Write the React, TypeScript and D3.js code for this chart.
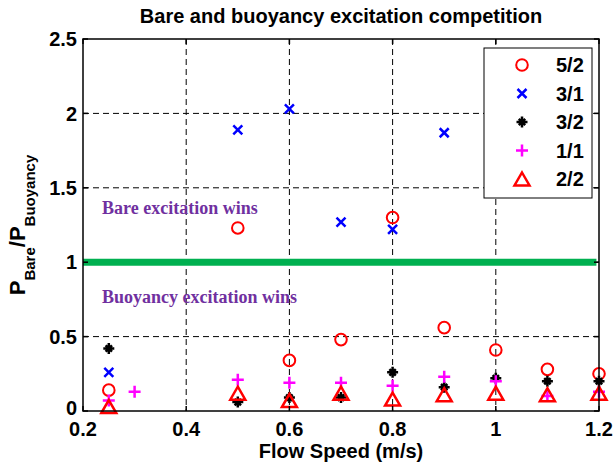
import React from 'react';
import * as d3 from 'd3';

// x positions (flow speed, m/s) and ratios for each mode
const x52 = [0.25, 0.5, 0.6, 0.7, 0.8, 0.9, 1.0, 1.1, 1.2];
const y52 = [0.14, 1.23, 0.34, 0.48, 1.30, 0.56, 0.41, 0.28, 0.25];

const x31 = [0.25, 0.5, 0.6, 0.7, 0.8, 0.9];
const y31 = [0.26, 1.89, 2.03, 1.27, 1.22, 1.87];

const x32 = [0.25, 0.5, 0.6, 0.7, 0.8, 0.9, 1.0, 1.1, 1.2];
const y32 = [0.42, 0.06, 0.09, 0.09, 0.26, 0.16, 0.22, 0.20, 0.20];

const x11 = [0.25, 0.3, 0.5, 0.6, 0.7, 0.8, 0.9, 1.0, 1.1, 1.2];
const y11 = [0.07, 0.13, 0.21, 0.19, 0.19, 0.17, 0.23, 0.20, 0.10, 0.13];

const x22 = [0.25, 0.5, 0.6, 0.7, 0.8, 0.9, 1.0, 1.1, 1.2];
const y22 = [0.03, 0.12, 0.07, 0.12, 0.08, 0.11, 0.12, 0.11, 0.12];

const xTicks = [0.2, 0.4, 0.6, 0.8, 1.0, 1.2];
const yTicks = [0, 0.5, 1, 1.5, 2, 2.5];
const seriesNames = ['5/2', '3/1', '3/2', '1/1', '2/2'];

const W = 615;
const H = 468;
const m = { left: 83, right: 599, top: 39, bottom: 411 };
const font = '"Liberation Sans", Arial, sans-serif';
const serif = '"Liberation Serif", "Times New Roman", serif';

type Kind = 'circle' | 'x' | 'star' | 'plus' | 'tri';

function Marker({ kind, cx, cy }: { kind: Kind; cx: number; cy: number }) {
  if (kind === 'circle')
    return <circle cx={cx} cy={cy} r={5.8} fill="none" stroke="#ff0000" strokeWidth={2} />;
  if (kind === 'x') {
    const s = 4.5;
    return (
      <path d={`M${cx - s},${cy - s}L${cx + s},${cy + s}M${cx - s},${cy + s}L${cx + s},${cy - s}`}
        stroke="#0000ff" strokeWidth={2.5} />
    );
  }
  if (kind === 'star') {
    const s = 5.5, d = 3.2;
    return (
      <g>
        <path d={`M${cx - s},${cy}L${cx + s},${cy}M${cx},${cy - s}L${cx},${cy + s}M${cx - d},${cy - d}L${cx + d},${cy + d}M${cx - d},${cy + d}L${cx + d},${cy - d}`}
          stroke="#000" strokeWidth={2.5} />
        <circle cx={cx} cy={cy} r={3} fill="#000" />
      </g>
    );
  }
  if (kind === 'plus') {
    const s = 6;
    return (
      <path d={`M${cx - s},${cy}L${cx + s},${cy}M${cx},${cy - s}L${cx},${cy + s}`}
        stroke="#ff00ff" strokeWidth={2.5} />
    );
  }
  const w = 7.5, h = 6.5;
  return (
    <path d={`M${cx},${cy - h}L${cx + w},${cy + h}L${cx - w},${cy + h}Z`}
      fill="none" stroke="#ff0000" strokeWidth={2.5} strokeLinejoin="miter" />
  );
}

export default function App() {
  const x = d3.scaleLinear().domain([0.2, 1.2]).range([m.left, m.right]);
  const y = d3.scaleLinear().domain([0, 2.5]).range([m.bottom, m.top]);

  const series: { kind: Kind; xs: number[]; ys: number[] }[] = [
    { kind: 'circle', xs: x52, ys: y52 },
    { kind: 'x', xs: x31, ys: y31 },
    { kind: 'star', xs: x32, ys: y32 },
    { kind: 'plus', xs: x11, ys: y11 },
    { kind: 'tri', xs: x22, ys: y22 },
  ];

  const tl = 5;
  const midX = (m.left + m.right) / 2;
  const midY = (m.top + m.bottom) / 2;

  return (
    <svg width={W} height={H} style={{ position: 'absolute', left: 0, top: 0, background: '#fff' }}>
      <rect width={W} height={H} fill="#fff" />

      {/* grid */}
      {xTicks.slice(1, -1).map(t => (
        <line key={'gx' + t} x1={x(t)} x2={x(t)} y1={m.top} y2={m.bottom}
          stroke="#000" strokeWidth={1} strokeDasharray="6,4" />
      ))}
      {yTicks.slice(1, -1).map(t => (
        <line key={'gy' + t} x1={m.left} x2={m.right} y1={y(t)} y2={y(t)}
          stroke="#000" strokeWidth={1} strokeDasharray="6,4" />
      ))}

      {/* threshold line */}
      <line x1={x(0.2)} x2={x(1.195)} y1={y(1)} y2={y(1)} stroke="#00b050" strokeWidth={7} />

      <text x={102} y={214} fontFamily={serif} fontWeight="bold" fontSize={18} fill="#7030a0">
        Bare excitation wins
      </text>
      <text x={102} y={303} fontFamily={serif} fontWeight="bold" fontSize={18} fill="#7030a0">
        Buoyancy excitation wins
      </text>

      {/* points */}
      {series.map(s => (
        <g key={s.kind}>
          {s.xs.map((v, i) => (
            <Marker key={i} kind={s.kind} cx={x(v)} cy={y(s.ys[i])} />
          ))}
        </g>
      ))}

      {/* box and ticks */}
      <rect x={m.left} y={m.top} width={m.right - m.left} height={m.bottom - m.top}
        fill="none" stroke="#000" strokeWidth={1.5} />
      {xTicks.map(t => (
        <g key={'tx' + t}>
          <line x1={x(t)} x2={x(t)} y1={m.bottom} y2={m.bottom - tl} stroke="#000" strokeWidth={1.5} />
          <line x1={x(t)} x2={x(t)} y1={m.top} y2={m.top + tl} stroke="#000" strokeWidth={1.5} />
          <text x={x(t)} y={436} textAnchor="middle" fontFamily={font} fontWeight="bold" fontSize={20}>
            {d3.format('~g')(t)}
          </text>
        </g>
      ))}
      {yTicks.map(t => (
        <g key={'ty' + t}>
          <line x1={m.left} x2={m.left + tl} y1={y(t)} y2={y(t)} stroke="#000" strokeWidth={1.5} />
          <line x1={m.right} x2={m.right - tl} y1={y(t)} y2={y(t)} stroke="#000" strokeWidth={1.5} />
          <text x={77} y={y(t) - (t === 0 ? 3 : 0)} dy="0.36em" textAnchor="end" fontFamily={font} fontWeight="bold" fontSize={20}>
            {d3.format('~g')(t)}
          </text>
        </g>
      ))}

      {/* title and axis labels */}
      <text x={midX} y={23} textAnchor="middle" fontFamily={font} fontWeight="bold" fontSize={20}>
        Bare and buoyancy excitation competition
      </text>
      <text x={midX} y={458} textAnchor="middle" fontFamily={font} fontWeight="bold" fontSize={20}>
        Flow Speed (m/s)
      </text>
      <text transform={`translate(25,${midY}) rotate(-90)`} textAnchor="middle"
        fontFamily={font} fontWeight="bold" fontSize={22}>
        <tspan>P</tspan>
        <tspan fontSize={15} dy={10}>Bare</tspan>
        <tspan dy={-10}>/P</tspan>
        <tspan fontSize={15} dy={10}>Buoyancy</tspan>
      </text>

      {/* legend */}
      <g>
        <rect x={484} y={48} width={108} height={150} fill="#fff" stroke="#000" strokeWidth={1} />
        {seriesNames.map((n, i) => {
          const ly = 65 + i * 28.5;
          return (
            <g key={n}>
              <Marker kind={series[i].kind} cx={522} cy={ly} />
              <text x={556} y={ly} dy="0.36em" fontFamily={font} fontWeight="bold" fontSize={20}>{n}</text>
            </g>
          );
        })}
      </g>
    </svg>
  );
}
